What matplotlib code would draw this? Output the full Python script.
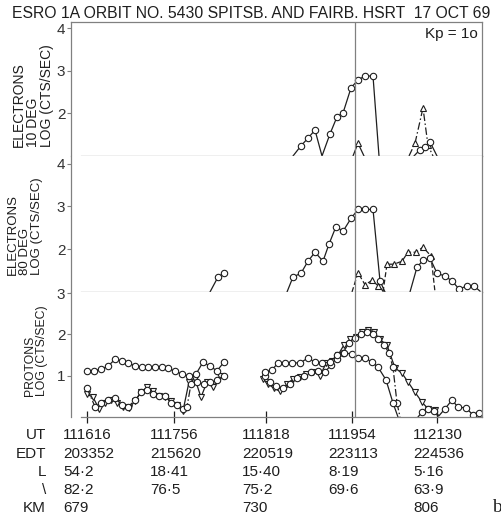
import matplotlib
matplotlib.use('Agg')
import matplotlib.pyplot as plt
import matplotlib.transforms as mtransforms
import numpy as np

# ── Data (x = position along the orbit track, arbitrary units) ───────────────

# Electrons 10 deg
e10_circ_x = [293, 301, 308, 315, 322, 330, 337, 343, 351, 358, 365, 373, 379]
e10_circ_y = [1.0, 1.24, 1.42, 1.61, 1.0, 1.52, 1.92, 2.01, 2.6, 2.79, 2.88, 2.88, 1.0]
e10_tri_x = [353, 358, 364]
e10_tri_y = [1.0, 1.3, 1.0]
e10_dd_x = [409, 415, 423, 428, 433]
e10_dd_y = [1.0, 1.3, 2.13, 1.25, 1.0]
e10_sm_x = [414, 420, 425, 430, 437]
e10_sm_y = [1.0, 1.15, 1.22, 1.33, 1.0]

# Electrons 80 deg
e80_circ_x = [210, 218, 224, np.nan, 287, 293, 301, 308, 315, 323, 329, 336,
              343, 351, 358, 365, 373, 380, 385]
e80_circ_y = [1.0, 1.35, 1.44, np.nan, 1.0, 1.35, 1.44, 1.72, 1.93, 1.72, 2.12,
              2.53, 2.42, 2.72, 2.93, 2.93, 2.93, 1.26, 1.0]
e80_tri_x = [352, 358, 365, 372, 378, 384]
e80_tri_y = [1.0, 1.45, 1.17, 1.27, 1.15, 1.0]
e80_dd_x = [383, 387, 394, 402, 408, 416, 423, 431, 435]
e80_dd_y = [1.0, 1.65, 1.65, 1.72, 1.93, 1.93, 2.05, 1.84, 1.0]
e80_c2_x = [410, 417, 423, 430, 437, 445, 452, 459, 467, 474, 480]
e80_c2_y = [1.0, 1.58, 1.74, 1.79, 1.44, 1.37, 1.26, 1.07, 1.14, 1.14, 1.02]

# Protons
p_circ_x = [87, 94, 101, 108, 115, 122, 128, 135, 142, 148, 155, 162, 168, 175,
            182, 189, 196, 203, 210, 217, 224, np.nan,
            265, 272, 278, 285, 292, 300, 308, 315, 322, 330, 337, 344, 352,
            358, 365, 372, 378, 386, 393, 398]
p_circ_y = [1.12, 1.12, 1.16, 1.23, 1.40, 1.36, 1.31, 1.24, 1.21, 1.21, 1.21,
            1.21, 1.18, 1.11, 1.04, 0.99, 1.04, 1.33, 1.23, 1.12, 1.33, np.nan,
            1.09, 1.14, 1.31, 1.31, 1.31, 1.31, 1.43, 1.33, 1.31, 1.33, 1.5,
            1.55, 1.53, 1.43, 1.43, 1.33, 1.21, 0.9, 0.34, 0.0]
p_tri_x = [87, 93, 99, 105, 111, 117, 123, 129, 135, 141, 147, 153, 159, 165,
           171, 177, 183, 189, 195, 201, 207, 213, 220, np.nan,
           263, 268, 274, 280, 287, 293, 300, 306, 313, 320, 326, 332, 338,
           344, 350, 356, 362, 368, 374, 380, 387, 395, 402, 408, 415, 422,
           428, 435, 438]
p_tri_y = [0.55, 0.48, 0.2, 0.35, 0.42, 0.35, 0.25, 0.22, 0.38, 0.6, 0.72,
           0.62, 0.52, 0.48, 0.38, 0.28, 0.15, 0.85, 0.92, 0.48, 0.85, 0.72,
           1.0, np.nan,
           0.92, 0.8, 0.7, 0.62, 0.8, 0.92, 0.97, 1.05, 1.1, 1.0, 1.3, 1.35,
           1.5, 1.75, 1.88, 1.95, 2.05, 2.12, 2.05, 1.88, 1.74, 1.19, 1.06,
           0.85, 0.6, 0.36, 0.2, 0.17, 0.0]
p_dd_x = [87, 95, 101, 108, 115, 122, 128, 135, 141, 147, 153, 159, 165, 171,
          177, 183, 187, 191, 197, 204, 210, 217, 224, np.nan,
          265, 270, 276, 283, 290, 297, 304, 311, 318, 325, 331, 337, 343,
          349, 355, 361, 367, 373, 378, 384, 389, 393, 397, 400]
p_dd_y = [0.7, 0.25, 0.35, 0.4, 0.45, 0.3, 0.25, 0.4, 0.6, 0.65, 0.55, 0.5,
          0.5, 0.35, 0.3, 0.2, 0.25, 0.8, 0.85, 0.8, 0.85, 0.9, 1.0, np.nan,
          1.0, 0.85, 0.75, 0.7, 0.8, 0.95, 1.0, 1.1, 1.12, 1.1, 1.25, 1.4,
          1.55, 1.8, 1.92, 2.0, 2.05, 2.0, 1.9, 1.75, 1.55, 1.2, 0.34, 0.0]
p_low_x = [418, 422, 428, 434, 439, 445, 452, 458, 466, 473, 479]
p_low_y = [0.0, 0.12, 0.2, 0.15, 0.03, 0.2, 0.41, 0.24, 0.22, 0.05, 0.1]

# Time axis annotations
tick_x = [87, 174, 266, 352, 437]
ut = ['111616', '111756', '111818', '111954', '112130']
edt = ['203352', '215620', '220519', '223113', '224536']
l_shell = ['54·2', '18·41', '15·40', '8·19', '5·16']
inv_lat = ['82·2', '76·5', '75·2', '69·6', '63·9']
km = ['679', '', '730', '', '806']
row_labels = ['UT', 'EDT', 'L', '\\', 'KM']

marker_line_x = 355

# ── Style ─────────────────────────────────────────────────────────────────────

INK = '#1e1e1e'
AXC = '#808080'
FONT = ['Liberation Sans', 'DejaVu Sans']
plt.rcParams['font.family'] = FONT
DASHDOT = (0, (6, 2, 1.2, 2))


def draw_series(ax, x, y, floor, marker, ls='-'):
    """Line through all points, open markers only above the baseline."""
    x = np.asarray(x, float)
    y = np.asarray(y, float)
    ax.plot(x, y, color=INK, lw=0.9, ls=ls)
    m = y > floor + 0.03
    ax.plot(x[m], y[m], ls='none', marker=marker, ms=4.6,
            mfc='white', mec=INK, mew=0.8)


def style_axes(ax, ylim, yticks, top=False):
    ax.set_xlim(71, 482)
    ax.set_ylim(*ylim)
    ax.set_yticks(yticks)
    ax.set_yticklabels([str(t) for t in yticks], fontsize=11, color='#333333')
    ax.tick_params(axis='y', direction='out', length=3, width=0.8,
                   color=AXC, pad=1)
    for s in ax.spines.values():
        s.set_color(AXC)
        s.set_linewidth(0.9)
    ax.spines['top'].set_visible(top)
    ax.spines['bottom'].set_bounds(81, 482)
    ax.axvline(marker_line_x, color=AXC, lw=0.9)


fig = plt.figure(figsize=(5.02, 5.21), dpi=100)
L, W = 71 / 502, 411 / 502
ax1 = fig.add_axes([L, 1 - 156 / 521, W, 134 / 521])
ax2 = fig.add_axes([L, 1 - 292 / 521, W, 136 / 521])
ax3 = fig.add_axes([L, 1 - 417 / 521, W, 125 / 521])

# Panel 1
draw_series(ax1, e10_circ_x, e10_circ_y, 1.0, 'o')
draw_series(ax1, e10_tri_x, e10_tri_y, 1.0, '^')
draw_series(ax1, e10_dd_x, e10_dd_y, 1.0, '^', DASHDOT)
draw_series(ax1, e10_sm_x, e10_sm_y, 1.0, 'o')
style_axes(ax1, (1.0, 4.15), [2, 3, 4], top=True)
ax1.set_xticks([])
ax1.text(0.99, 0.96, 'Kp = 1o', transform=ax1.transAxes, ha='right',
         va='top', fontsize=11, color=INK)

# Panel 2
draw_series(ax2, e80_circ_x, e80_circ_y, 1.0, 'o')
draw_series(ax2, e80_tri_x, e80_tri_y, 1.0, '^', (0, (4, 2)))
draw_series(ax2, e80_dd_x, e80_dd_y, 1.0, '^', (0, (4, 2)))
draw_series(ax2, e80_c2_x, e80_c2_y, 1.0, 'o')
style_axes(ax2, (1.0, 4.18), [2, 3, 4])
ax2.set_xticks([])

# Panel 3
draw_series(ax3, p_tri_x, p_tri_y, 0.0, 'v')
draw_series(ax3, p_dd_x, p_dd_y, 0.0, 'o', DASHDOT)
draw_series(ax3, p_circ_x, p_circ_y, 0.0, 'o')
draw_series(ax3, p_low_x, p_low_y, 0.0, 'o')
style_axes(ax3, (0.0, 3.03), [1, 2, 3])
ax3.set_xticks(tick_x)
ax3.set_xticklabels([])
ax3.tick_params(axis='x', direction='inout', length=9, width=0.9, color=INK)

# y labels (bottom-aligned multi-line, rotated)
ylab_kw = dict(rotation=90, ha='center', va='bottom', multialignment='left',
               color=INK, linespacing=1.0)
fig.text(33 / 502, 1 - 147 / 521, 'ELECTRONS\n10 DEG\nLOG (CTS/SEC)',
         fontsize=10, **ylab_kw)
fig.text(25 / 502, 1 - 275 / 521, 'ELECTRONS\n80 DEG\nLOG (CTS/SEC)',
         fontsize=9.5, **ylab_kw)
fig.text(36 / 502, 1 - 396 / 521, 'PROTONS\nLOG (CTS/SEC)',
         fontsize=8.8, **ylab_kw)

# Title
fig.text(0.5, 1 - 14 / 521,
         'ESRO 1A ORBIT NO. 5430 SPITSB. AND FAIRB. HSRT  17 OCT 69',
         ha='center', va='center', fontsize=11.3, color=INK)

# Orbit table under the time axis
trans = mtransforms.blended_transform_factory(ax3.transData, fig.transFigure)
rows = [ut, edt, l_shell, inv_lat, km]
row_py = [435, 454, 472, 490, 508]
for lab, vals, py in zip(row_labels, rows, row_py):
    fig.text(46 / 502, 1 - py / 521, lab, ha='right', va='center',
             fontsize=11, color=INK)
    for xt, v in zip(tick_x, vals):
        ax3.text(xt - 24, 1 - py / 521, v, transform=trans, ha='left',
                 va='center', fontsize=11, color=INK, clip_on=False)

fig.text(497 / 502, 1 - 507 / 521, 'b', ha='center', va='center',
         fontsize=14, family=['Liberation Serif', 'DejaVu Serif'], color=INK)

fig.savefig('out.png', dpi=100, facecolor='white')
